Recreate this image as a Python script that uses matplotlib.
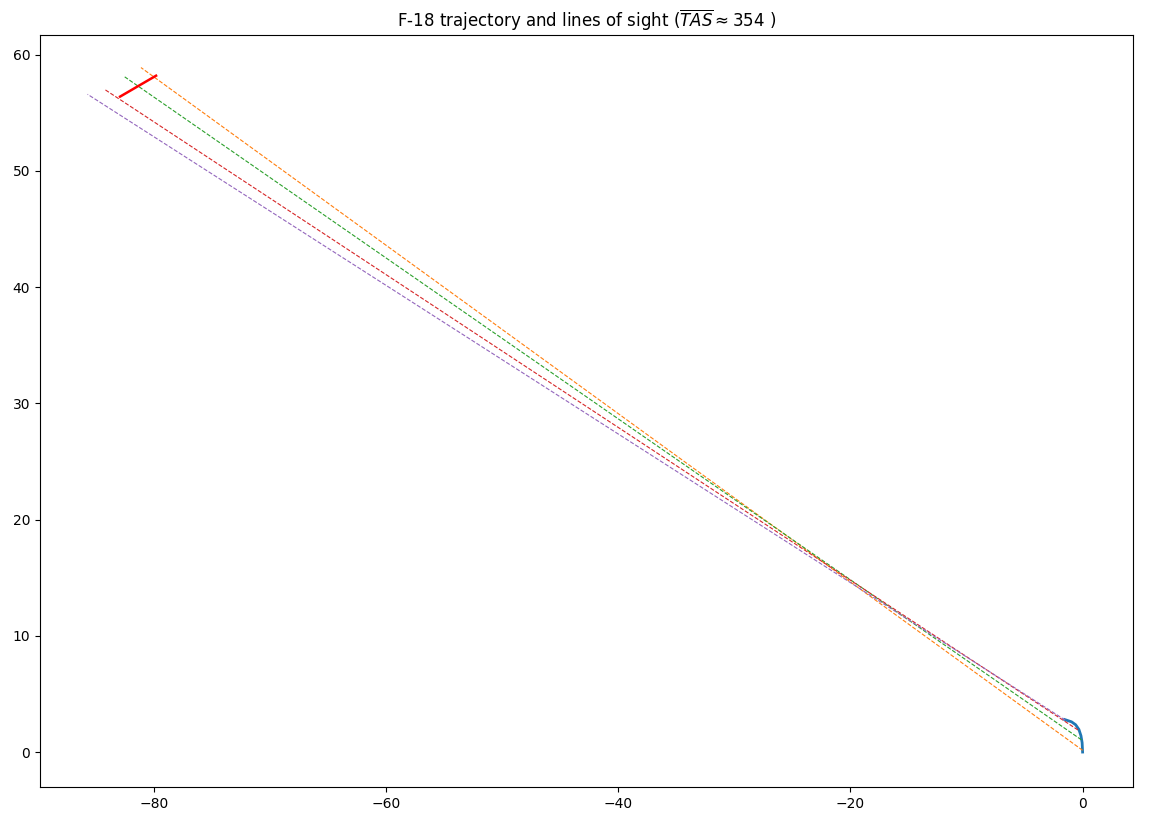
import matplotlib
matplotlib.use("Agg")
import matplotlib.pyplot as plt

# Trajectory (km)
traj_x = [0.0, -0.04, -0.14, -0.32, -0.6, -0.95, -1.55]
traj_y = [0.0, 0.8, 1.4, 1.95, 2.35, 2.6, 2.8]

# Lines of sight: start (on trajectory) and end (target)
los_x0 = [0.0, -0.1, -0.4, -1.5]
los_y0 = [0.15, 1.05, 1.9, 2.75]
los_x1 = [-81.1, -82.5, -84.2, -85.7]
los_y1 = [58.9, 58.1, 57.0, 56.6]
los_colors = ["C1", "C2", "C3", "C4"]

# Target segment
seg_x = [-82.9, -79.8]
seg_y = [56.4, 58.2]

fig = plt.figure(figsize=(11.58, 8.24), dpi=100)
ax = fig.add_axes([0.0345, 0.045, 0.9435, 0.9125])

ax.plot(traj_x, traj_y, color="C0", lw=2)
for x0, y0, x1, y1, c in zip(los_x0, los_y0, los_x1, los_y1, los_colors):
    ax.plot([x0, x1], [y0, y1], color=c, lw=0.8, ls="--")
ax.plot(seg_x, seg_y, color="red", lw=1.8)

ax.set_xlim(-89.8, 4.3)
ax.set_ylim(-3.0, 61.7)
ax.set_title(r"F-18 trajectory and lines of sight ($\overline{TAS} \approx 354$ )")

fig.savefig("out.png", dpi=100)
